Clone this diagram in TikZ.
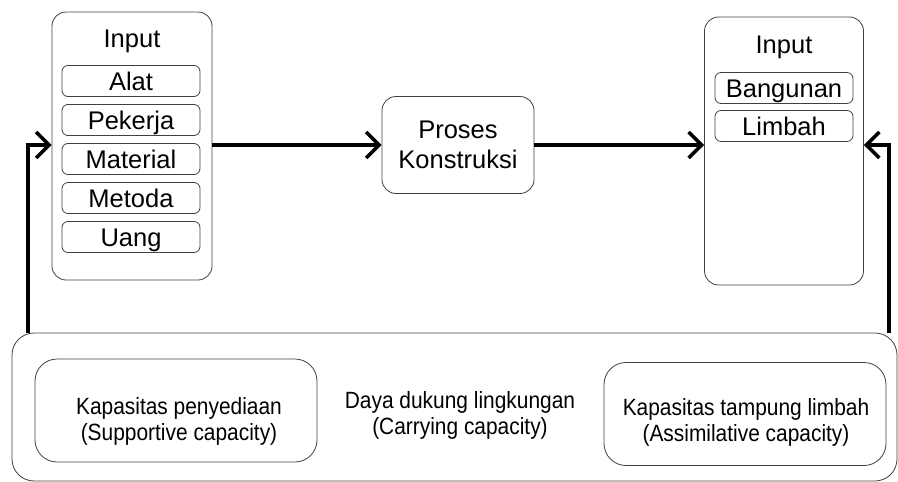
\documentclass[tikz,border=0pt]{standalone}
\usepackage{fontspec}
\setmainfont{Liberation Sans}
\newfontfamily\narrowsf[FakeStretch=0.89]{Liberation Sans}
\usetikzlibrary{arrows.meta,positioning,calc}

\tikzset{
  box/.style={draw=black!75, line width=0.8pt, rounded corners=14pt, inner sep=0pt},
  item/.style={draw=black!75, line width=0.8pt, rounded corners=6pt,
               minimum width=138pt, minimum height=31pt, inner sep=0pt,
               text height=18.5pt, text depth=0pt},
  capbox/.style={box, rounded corners=22pt, minimum width=282pt, minimum height=103pt},
  captxt/.style={align=center, font=\narrowsf\fontsize{23.5}{26}\selectfont},
  flow/.style={line width=3.5pt, -{Straight Barb[length=13pt,width=26pt]}}
}

\begin{document}
\begin{tikzpicture}[x=1pt,y=-1pt,font=\fontsize{25.5}{30}\selectfont]
  \useasboundingbox (0,0) rectangle (898,482);

  \node(inL)[box, minimum width=160pt, minimum height=268pt] at (132,146) {};
  \node(tL)[anchor=base] at (132,47) {Input};
  \foreach \w [count=\i] in {Alat,Pekerja,Material,Metoda,Uang}
    \node(in\i)[item] at (131,42+39*\i) {\w};

  \node(pk)[box, minimum width=152pt, minimum height=97pt, align=center]
    at (458,145) {Proses\\Konstruksi};

  \node(inR)[box, minimum width=159pt, minimum height=268pt] at (784,151) {};
  \node(tR)[anchor=base] at (784,53) {Input};
  \node(out1)[item] at (784,88) {Bangunan};
  \node(out2)[item] at (784,126) {Limbah};

  \node(env)[box, rounded corners=22pt, minimum width=885pt,
             minimum height=148pt] at (454.5,407) {};
  \node(sup)[capbox] at (176,410.5) {};
  \node(asm)[capbox] at (745,414) {};
  \node(supt)[captxt] at (179,421) {Kapasitas penyediaan\\(Supportive capacity)};
  \node(cct)[captxt] at (460,415) {Daya dukung lingkungan\\(Carrying capacity)};
  \node(asmt)[captxt] at (746,422) {Kapasitas tampung limbah\\(Assimilative capacity)};

  \draw[flow] (inL.east |- pk.west) -- (pk.west);
  \draw[flow] (pk.east) -- (pk.east -| inR.west);

  \coordinate (fbL) at (28,333);
  \coordinate (fbR) at (889,333);
  \draw[flow] (fbL) |- (pk.west -| inL.west);
  \draw[flow] (fbR) |- (pk.east -| inR.east);

\end{tikzpicture}
\end{document}
